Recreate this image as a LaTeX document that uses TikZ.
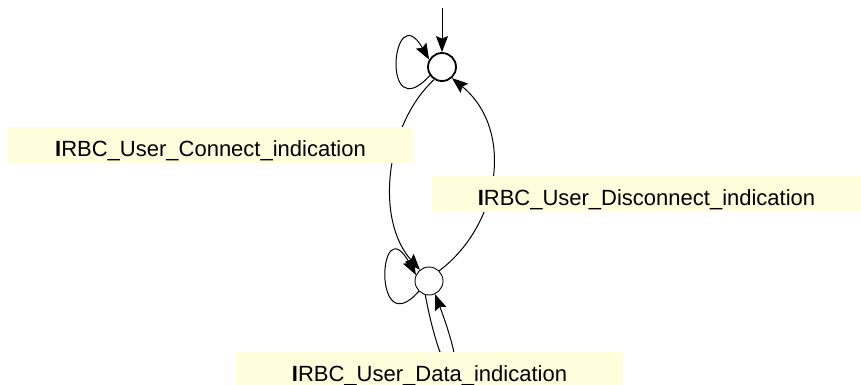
\documentclass[tikz,border=0pt]{standalone}
\usepackage{fontspec}
\setmainfont{Liberation Sans}
\usetikzlibrary{arrows.meta}
\definecolor{lblfill}{HTML}{FFFEDC}
\tikzset{
  state/.style={circle, draw, fill=white, minimum size=28pt, inner sep=0pt},
  edge/.style={draw, line width=1pt, -{Stealth[length=16pt,width=12pt,inset=2.5pt]}},
  lbl/.style={fill=lblfill, inner xsep=0pt, inner ysep=0pt, text height=29pt, text depth=7pt, anchor=base, font=\fontsize{22}{26}\selectfont},
}
\begin{document}
\begin{tikzpicture}[x=1pt,y=-1pt]
\useasboundingbox (0,0) rectangle (861,385);
\node[state, line width=1.8pt] (s0) at (442,67) {};
\node[state, line width=0.9pt] (s1) at (429,281) {};
\coordinate (init) at (442,8);
% edges
\draw[edge] (init) -- (s0.north);
\draw[edge] (s0.215) .. controls (380,130) and (392,-5) .. (s0.150);
\draw[edge] (s0.238) .. controls (385,125) and (375,220) .. (s1.129);
\draw[edge] (s1.45) .. controls (500,225) and (515,130) .. (s0.312);
\draw[edge] (s1.225) .. controls (372,345) and (378,205) .. (s1.155);
\draw[edge] (s1.255) .. controls (445,400) and (475,400) .. (s1.295);
% labels
\node[lbl, minimum width=405pt] (lc) at (210.5,156) {{\bfseries I}RBC\_User\_Connect\_indication};
\node[lbl, minimum width=429pt] (ld) at (646.5,205) {{\bfseries I}RBC\_User\_Disconnect\_indication};
\node[lbl, minimum width=387pt] (lt) at (429.5,381) {{\bfseries I}RBC\_User\_Data\_indication};
\end{tikzpicture}
\end{document}
